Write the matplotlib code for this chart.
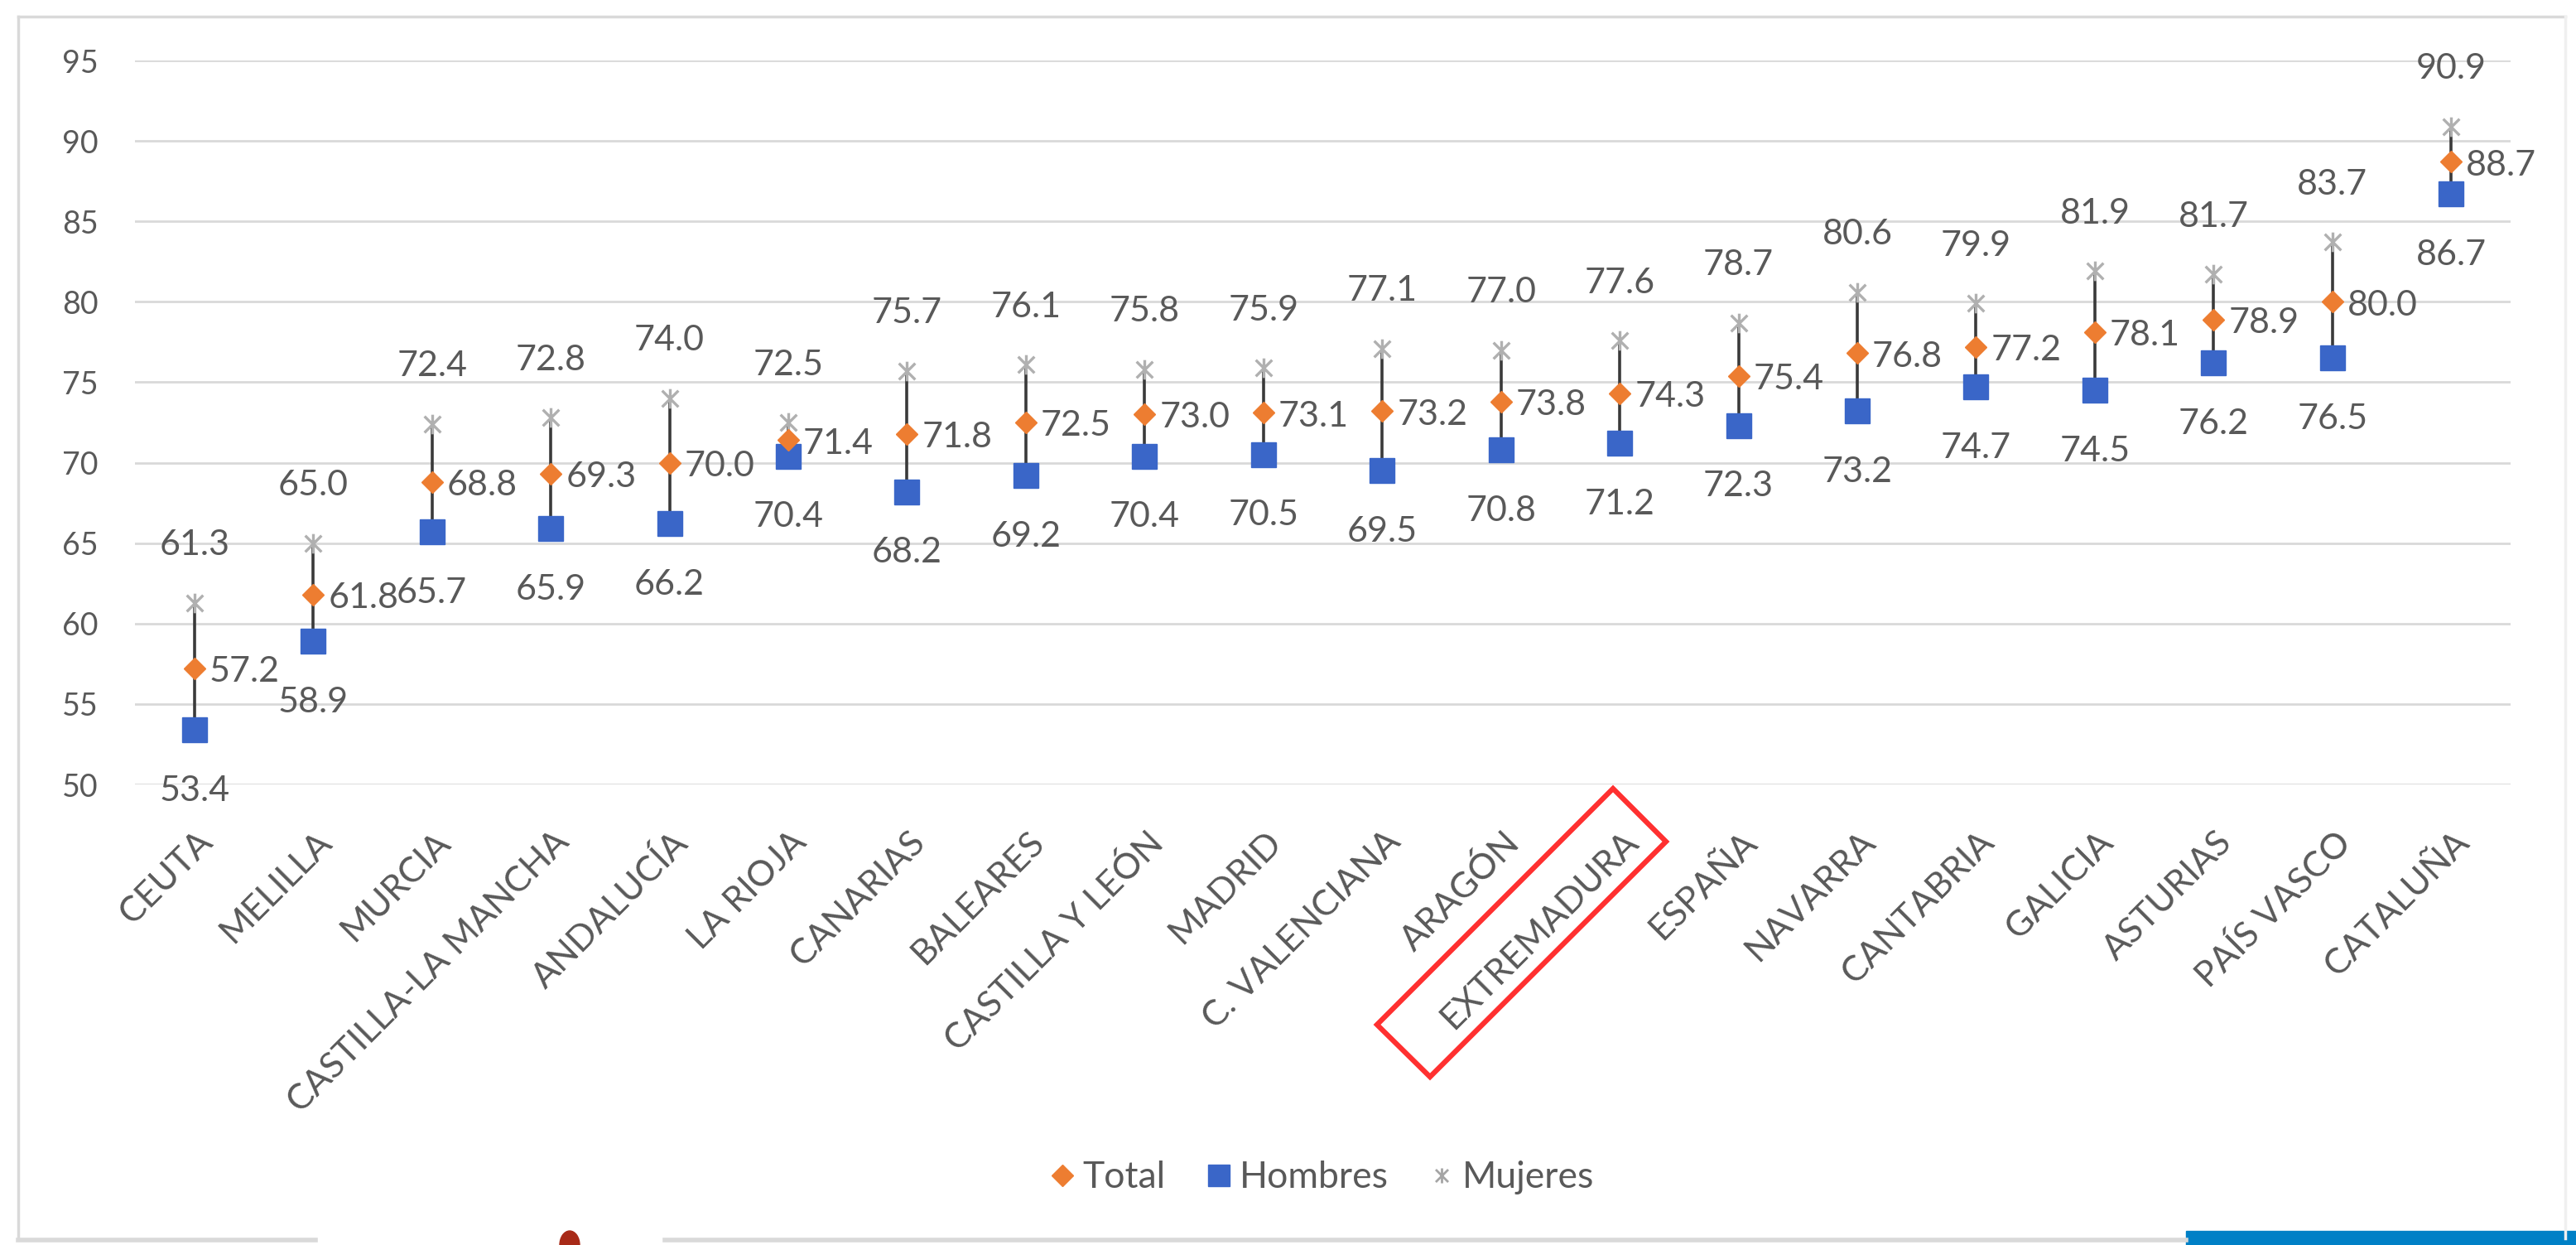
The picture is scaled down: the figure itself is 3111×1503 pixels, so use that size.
import matplotlib
matplotlib.use("Agg")
import matplotlib.pyplot as plt
from matplotlib.lines import Line2D
from matplotlib.patches import Polygon, Rectangle, Ellipse
from matplotlib.path import Path
import matplotlib.transforms as mtransforms
import numpy as np

plt.rcParams['font.family'] = ['Lato', 'DejaVu Sans']

categories = ["CEUTA", "MELILLA", "MURCIA", "CASTILLA-LA MANCHA", "ANDALUCÍA", "LA RIOJA",
              "CANARIAS", "BALEARES", "CASTILLA Y LEÓN", "MADRID", "C. VALENCIANA", "ARAGÓN",
              "EXTREMADURA", "ESPAÑA", "NAVARRA", "CANTABRIA", "GALICIA", "ASTURIAS",
              "PAÍS VASCO", "CATALUÑA"]
total = [57.2, 61.8, 68.8, 69.3, 70.0, 71.4, 71.8, 72.5, 73.0, 73.1, 73.2, 73.8, 74.3, 75.4,
         76.8, 77.2, 78.1, 78.9, 80.0, 88.7]
hombres = [53.4, 58.9, 65.7, 65.9, 66.2, 70.4, 68.2, 69.2, 70.4, 70.5, 69.5, 70.8, 71.2, 72.3,
           73.2, 74.7, 74.5, 76.2, 76.5, 86.7]
mujeres = [61.3, 65.0, 72.4, 72.8, 74.0, 72.5, 75.7, 76.1, 75.8, 75.9, 77.1, 77.0, 77.6, 78.7,
           80.6, 79.9, 81.9, 81.7, 83.7, 90.9]
yticks = [50, 55, 60, 65, 70, 75, 80, 85, 90, 95]

W, H = 3111, 1503
fig = plt.figure(figsize=(W / 100, H / 100), dpi=100)
fig.patch.set_facecolor('white')

def fx(x):
    return x / W

def fy(y):
    return 1 - y / H

ax = fig.add_axes([fx(163), fy(947), fx(3032) - fx(163), fy(73) - fy(947)])
x = np.arange(len(categories))
lo = np.minimum(np.minimum(hombres, mujeres), total)
hi = np.maximum(np.maximum(hombres, mujeres), total)

ax.set_xlim(-0.5, len(categories) - 0.5)
ax.set_ylim(50, 95)
ax.set_yticks(yticks)
ax.set_yticklabels([str(t) for t in yticks])
ax.grid(axis='y', color='#D9D9D9', lw=2)
ax.set_axisbelow(True)
for s in ax.spines.values():
    s.set_visible(False)

txt_color = '#595959'
ax.tick_params(axis='y', length=0, pad=32, labelsize=27, labelcolor=txt_color)
ax.tick_params(axis='x', length=0, pad=36, labelsize=31, labelcolor=txt_color)
ax.set_xticks(x)
ax.set_xticklabels(categories, rotation=45, ha='right', rotation_mode='anchor')
shift = mtransforms.ScaledTranslation(2 / 100, 0, fig.dpi_scale_trans)
for lab in ax.get_xticklabels():
    lab.set_transform(lab.get_transform() + shift)

# asterisk-like marker: x with a vertical bar
star = Path([(-1, -1), (1, 1), (-1, 1), (1, -1), (0, -1.2), (0, 1.2)],
            [Path.MOVETO, Path.LINETO, Path.MOVETO, Path.LINETO, Path.MOVETO, Path.LINETO])

ax.vlines(x, lo, hi, color='#3A3A3A', lw=2.6, zorder=2)
ax.plot(x, mujeres, ls='none', marker=star, ms=17, mew=2.4, color='#B0B0B0',
        mfc='none', zorder=3)
ax.plot(x, hombres, ls='none', marker='s', ms=21, color='#3A66C8', zorder=4)
ax.plot(x, total, ls='none', marker='D', ms=13, color='#ED7D31', zorder=5)

fs = 31
for xi, t, h, m in zip(x, total, hombres, mujeres):
    ax.annotate(f"{m:.1f}", (xi, m), xytext=(0, 50), textcoords='offset points',
                ha='center', va='center', fontsize=fs, color=txt_color)
    ax.annotate(f"{h:.1f}", (xi, h), xytext=(0, -53), textcoords='offset points',
                ha='center', va='center', fontsize=fs, color=txt_color)
    ax.annotate(f"{t:.1f}", (xi, t), xytext=(13, -3), textcoords='offset points',
                ha='left', va='center', fontsize=fs, color=txt_color)

handles = [
    Line2D([], [], ls='none', marker='D', ms=13, color='#ED7D31', label='Total'),
    Line2D([], [], ls='none', marker='s', ms=19, color='#3A66C8', label='Hombres'),
    Line2D([], [], ls='none', marker=star, ms=13, mew=2, color='#A5A5A5', label='Mujeres'),
]
fig.legend(handles=handles, loc='center', bbox_to_anchor=(fx(1594), fy(1422)), ncol=3,
           frameon=False, fontsize=32, handletextpad=0.1, columnspacing=1.0,
           labelcolor=txt_color, handlelength=0.9)

# outer chart frame
frame_col = '#D9D9D9'
fig.add_artist(Line2D([fx(22), fx(22)], [fy(20), fy(1495)], color=frame_col, lw=2.5))
fig.add_artist(Line2D([fx(22), fx(3098)], [fy(20), fy(20)], color=frame_col, lw=2.5))
fig.add_artist(Line2D([fx(3098), fx(3098)], [fy(20), fy(1495)], color='#F0F0F0', lw=2.5))
fig.add_artist(Line2D([fx(22), fx(381)], [fy(1497), fy(1497)], color=frame_col, lw=4))
fig.add_artist(Line2D([fx(803), fx(2640)], [fy(1497), fy(1497)], color=frame_col, lw=4))

# red highlight box around EXTREMADURA
corners = [(1948, 952), (2012, 1016), (1727, 1300), (1663, 1237)]
fig.add_artist(Polygon([(fx(a), fy(b)) for a, b in corners], closed=True, fill=False,
                       edgecolor='#FF3030', lw=4.5, transform=fig.transFigure))

# bottom decorations
fig.add_artist(Rectangle((fx(2640), 0), 1 - fx(2640), fy(1486), color='#0080C6',
                         transform=fig.transFigure))
fig.add_artist(Ellipse((fx(688), fy(1503)), fx(24), 34 / H, color='#A82A18',
                       transform=fig.transFigure))

fig.savefig('out.png', dpi=100, facecolor='white')
